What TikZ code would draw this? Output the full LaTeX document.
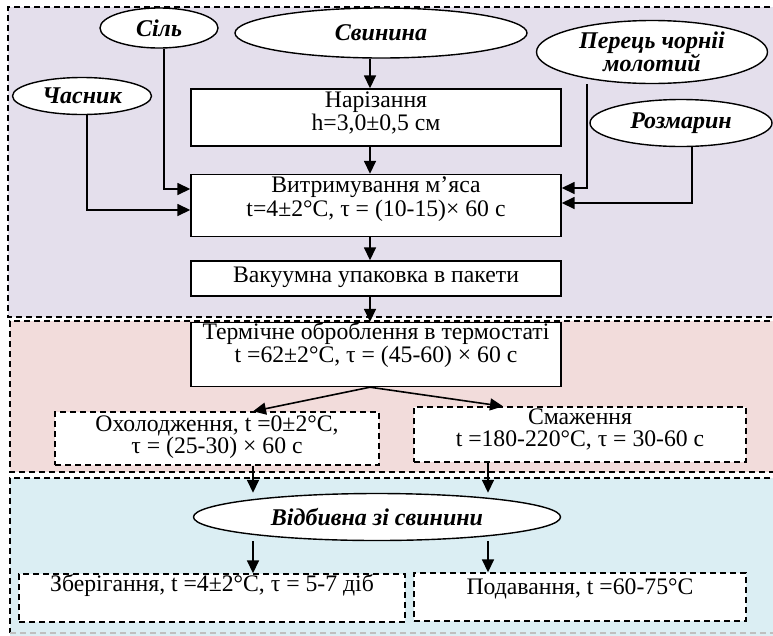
\documentclass[tikz,border=0pt]{standalone}
\usepackage{fontspec}
\setmainfont{Liberation Serif}
\usetikzlibrary{shapes.geometric,arrows.meta}
\definecolor{zonea}{HTML}{E4DFEC}
\definecolor{zoneb}{HTML}{F2DCDB}
\definecolor{zonec}{HTML}{DBEEF3}
% #1 width, #2 height, #3 first baseline below top, #4 baselineskip, #5 text
\newcommand\bt[5]{\parbox[c][#2pt][t]{#1pt}{\fontsize{23.7}{#4}\selectfont\lineskiplimit=-50pt\centering\rule{0pt}{#3pt}#5\par}}
\begin{document}
\begin{tikzpicture}[x=1pt,y=-1pt,
  proc/.style={draw, line width=1.4pt, fill=white, inner sep=0pt, rectangle},
  dproc/.style={draw, line width=1.4pt, fill=white, inner sep=0pt, rectangle, dash pattern=on 6pt off 4pt},
  ingr/.style={draw, line width=1.4pt, fill=white, ellipse, inner sep=0pt, align=center,
    font=\fontsize{24}{20}\selectfont\bfseries\itshape},
  arr/.style={line width=1.6pt, -{Triangle[length=13pt,width=12pt]}},
  zone/.style={line width=1.2pt, dash pattern=on 6pt off 4pt}]
\useasboundingbox (0,0) rectangle (773,635);
% zones
\fill[zonea] (8,7) rectangle (790,317);
\draw[zone] (790,7) -- (8,7) -- (8,317) -- (790,317);
\fill[zoneb] (10,321) rectangle (790,472);
\draw[zone] (790,321) -- (10,321) -- (10,472) -- (790,472);
\fill[zonec] (10,478) rectangle (790,640);
\draw[zone] (790,478) -- (10,478) -- (10,633);
\draw[line width=1.2pt, dash pattern=on 6pt off 4pt, black!25] (10,633) -- (790,633);
% ingredient ellipses
\node[ingr, minimum width=118pt, minimum height=40pt] (sil) at (159,28) {Сіль};
\node[ingr, minimum width=292pt, minimum height=50pt] (pork) at (381,33) {Свинина};
\node[ingr, minimum width=139pt, minimum height=37pt] (garl) at (82,96) {Часник};
\node[ingr, minimum width=231pt, minimum height=63pt] (pep) at (652,52) {Перець чорніі\\молотий};
\node[ingr, minimum width=182pt, minimum height=47pt] (ros) at (681,123) {Розмарин};
% process boxes
\node[proc] (cut) at (376,117.5) {\bt{370}{57}{18.4}{23.5}{Нарізання\\h=3,0±0,5 см}};
\node[proc] (mar) at (376,205.5) {\bt{370}{62}{17.7}{24}{Витримування м’яса\\t=4±2°C, τ = (10-15)× 60 с}};
\node[proc] (vac) at (376,278.5) {\bt{370}{35}{21.7}{23.5}{Вакуумна упаковка в пакети}};
\node[proc] (therm) at (376,354.5) {\bt{370}{64}{17.3}{23}{Термічне оброблення в термостаті\\t =62±2°C, τ = (45-60) × 60 с}};
\node[dproc] (cool) at (217,438.5) {\bt{324}{53}{19.5}{22}{Охолодження, t =0±2°C,\\τ = (25-30) × 60 с}};
\node[dproc] (fry) at (580,434.5) {\bt{332}{55}{17}{22}{Смаження\\t =180-220°C, τ = 30-60 с}};
\node[ingr, minimum width=367pt, minimum height=47pt] (prod) at (377,517) {Відбивна зі свинини};
\node[dproc] (store) at (212,598) {\bt{386}{48}{17.4}{20}{Зберігання, t =4±2°C, τ = 5-7 діб}};
\node[dproc] (serve) at (580,597) {\bt{332}{48}{21.3}{20}{Подавання, t =60-75°C}};
% helper coordinates
\coordinate (mx) at (370,0);
\coordinate (sx) at (164,189);
\coordinate (gx) at (87,210);
\coordinate (px) at (587,188);
\coordinate (rx) at (692,203);
\coordinate (lx) at (253,0);
\coordinate (rt) at (503,0);
\coordinate (fx) at (488,0);
% connectors
\draw[arr] (pork.south -| mx) -- (cut.north -| mx);
\draw[arr] (cut.south -| mx) -- (mar.north -| mx);
\draw[arr] (mar.south -| mx) -- (vac.north -| mx);
\draw[arr] (vac.south -| mx) -- (therm.north -| mx);
\draw[arr] (sil.south -| sx) |- (mar.west |- sx);
\draw[arr] (garl.south -| gx) |- (mar.west |- gx);
\draw[arr] (pep.south -| px) |- (mar.east |- px);
\draw[arr] (ros.south -| rx) |- (mar.east |- rx);
\draw[arr] (therm.south -| mx) -- (cool.north -| lx);
\draw[arr] (therm.south -| mx) -- (fry.north -| rt);
\draw[arr] (cool.south -| lx) -- (prod.north -| lx);
\draw[arr] (fry.south -| fx) -- (prod.north -| fx);
\draw[arr] (prod.south -| lx) -- (store.north -| lx);
\draw[arr] (prod.south -| fx) -- (serve.north -| fx);
\end{tikzpicture}
\end{document}
